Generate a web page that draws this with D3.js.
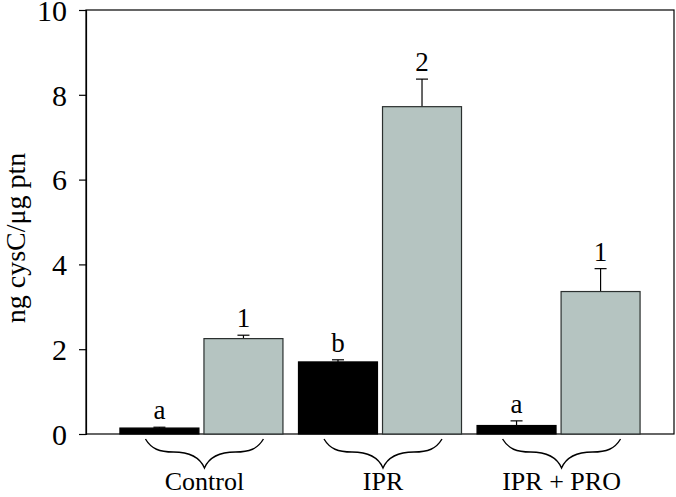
<!DOCTYPE html>
<html>
<head>
<meta charset="utf-8">
<script src="https://cdn.jsdelivr.net/npm/d3@7"></script>
<style>
  body { margin: 0; background: #fff; }
  text { font-family: "Liberation Serif", "Times New Roman", serif; fill: #000; }
</style>
</head>
<body>
<div id="chart"></div>
<script>
// data
var groups = ["Control", "IPR", "IPR + PRO"];
var series = ["black", "gray"];
var blackVals = [0.14, 1.70, 0.20];
var blackErr = [0.02, 0.05, 0.11];
var blackLetters = ["a", "b", "a"];
var grayVals = [2.25, 7.72, 3.36];
var grayErr = [0.08, 0.65, 0.54];
var grayLetters = ["1", "2", "1"];
var yTicks = [0, 2, 4, 6, 8, 10];

var W = 676, H = 497;
var margin = {top: 10, right: 2, bottom: 63, left: 86};
var width = W - margin.left - margin.right,
    height = H - margin.top - margin.bottom;

var svg = d3.select("#chart").append("svg")
    .attr("width", W)
    .attr("height", H)
  .append("g")
    .attr("transform", "translate(" + margin.left + "," + margin.top + ")");

var x0 = d3.scaleBand()
    .domain(groups)
    .range([0, width])
    .paddingInner(0.087)
    .paddingOuter(0.19);

var x1 = d3.scaleBand()
    .domain(series)
    .range([0, x0.bandwidth()])
    .paddingInner(0.06);

var y = d3.scaleLinear()
    .domain([0, 10])
    .range([height, 0]);

// rows per bar
var rows = [];
groups.forEach(function (g, i) {
    rows.push({group: g, s: "black", v: blackVals[i], e: blackErr[i], lab: blackLetters[i]});
    rows.push({group: g, s: "gray", v: grayVals[i], e: grayErr[i], lab: grayLetters[i]});
});

// frame
svg.append("rect")
    .attr("x", 0).attr("y", 0)
    .attr("width", width).attr("height", height)
    .attr("fill", "none")
    .attr("stroke", "#000")
    .attr("stroke-width", 1.2);

var bar = svg.selectAll(".bar")
    .data(rows)
    .enter().append("g")
    .attr("class", "bar");

// error bars (upper only)
bar.append("line")
    .attr("x1", function(d) { return x0(d.group) + x1(d.s) + x1.bandwidth() / 2; })
    .attr("x2", function(d) { return x0(d.group) + x1(d.s) + x1.bandwidth() / 2; })
    .attr("y1", function(d) { return y(d.v); })
    .attr("y2", function(d) { return y(d.v + d.e); })
    .attr("stroke", "#000")
    .attr("stroke-width", 1.2);

bar.append("line")
    .attr("x1", function(d) { return x0(d.group) + x1(d.s) + x1.bandwidth() / 2 - 6; })
    .attr("x2", function(d) { return x0(d.group) + x1(d.s) + x1.bandwidth() / 2 + 6; })
    .attr("y1", function(d) { return y(d.v + d.e); })
    .attr("y2", function(d) { return y(d.v + d.e); })
    .attr("stroke", "#000")
    .attr("stroke-width", 1.2);

bar.append("rect")
    .attr("x", function(d) { return x0(d.group) + x1(d.s); })
    .attr("y", function(d) { return y(d.v); })
    .attr("width", x1.bandwidth())
    .attr("height", function(d) { return y(0) - y(d.v); })
    .attr("fill", function(d) { return d.s === "black" ? "#000" : "#b5c4c1"; })
    .attr("stroke", function(d) { return d.s === "black" ? "#000" : "#2b302f"; })
    .attr("stroke-width", 1.2);

// significance letters
bar.append("text")
    .attr("x", function(d) { return x0(d.group) + x1(d.s) + x1.bandwidth() / 2; })
    .attr("y", function(d) { return y(d.v + d.e) - 8; })
    .attr("text-anchor", "middle")
    .style("font-size", "27px")
    .text(function(d) { return d.lab; });

// y axis
var yAxis = d3.axisLeft(y)
    .tickValues(yTicks)
    .tickSize(7)
    .tickPadding(12)
    .tickFormat(d3.format("d"));

var ya = svg.append("g")
    .attr("class", "y-axis")
    .call(yAxis);
ya.select(".domain").attr("stroke-width", 1.2);
ya.selectAll(".tick line").attr("stroke-width", 1.2);
ya.selectAll(".tick text")
    .style("font-family", "'Liberation Serif', serif")
    .style("font-size", "30px")
    .attr("dy", "0.34em");

// y label
svg.append("text")
    .attr("transform", "translate(" + (-61) + "," + (height / 2 + 16) + ") rotate(-90)")
    .attr("text-anchor", "middle")
    .style("font-size", "28px")
    .text("ng cysC/\u03bcg ptn");

// braces under groups
function brace(cx, w, top, bot) {
    var l = cx - w / 2, r = cx + w / 2, ym = top + 13;
    return "M" + l + "," + top +
        " C" + (l + 6) + "," + (top + 10) + " " + (l + 14) + "," + ym + " " + (l + 28) + "," + ym +
        " C" + (cx - 22) + "," + ym + " " + (cx - 6) + "," + (ym + 2) + " " + cx + "," + bot +
        " C" + (cx + 6) + "," + (ym + 2) + " " + (cx + 22) + "," + ym + " " + (r - 28) + "," + ym +
        " C" + (r - 14) + "," + ym + " " + (r - 6) + "," + (top + 10) + " " + r + "," + top;
}

var grp = svg.selectAll(".grp")
    .data(groups)
    .enter().append("g")
    .attr("class", "grp");

grp.append("path")
    .attr("d", function(d) { return brace(x0(d) + x0.bandwidth() / 2 + 3, 118, height + 5, height + 34); })
    .attr("fill", "none")
    .attr("stroke", "#000")
    .attr("stroke-width", 1.4);

grp.append("text")
    .attr("x", function(d) { return x0(d) + x0.bandwidth() / 2 + 3; })
    .attr("y", height + 56)
    .attr("text-anchor", "middle")
    .style("font-size", "26px")
    .text(function(d) { return d; });
</script>
</body>
</html>
